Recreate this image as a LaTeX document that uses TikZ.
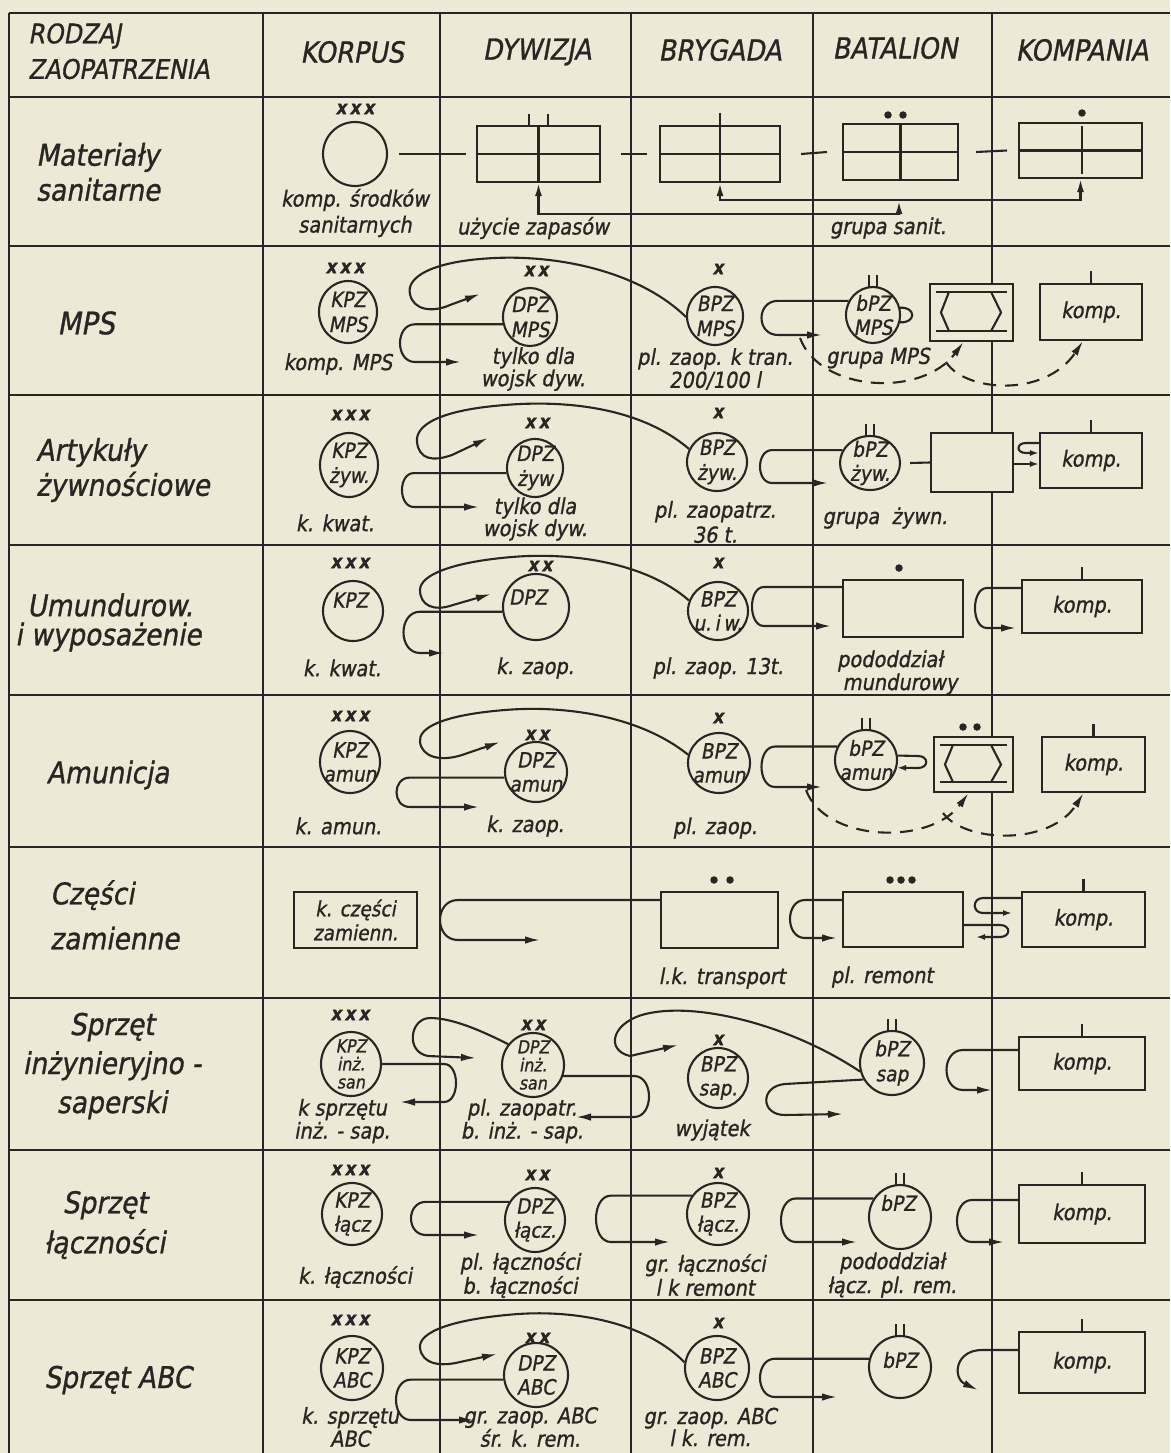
\documentclass[tikz,border=0pt]{standalone}
\usepackage{fontspec}
\newfontfamily\hand{DejaVu Sans}[FakeSlant=0.18,FakeStretch=0.88,FakeBold=1]
\usetikzlibrary{calc,arrows.meta,shapes.geometric}
\definecolor{paper}{RGB}{237,233,214}
\definecolor{ink}{RGB}{40,38,35}

% inner drawing of the column/transport box
\newcommand\hexmark[1]{%
  \draw[plain] ($(#1.north west)+(7,9)$) -- ($(#1.north east)+(-7,9)$);
  \draw[plain] ($(#1.south west)+(7,-11)$) -- ($(#1.south east)+(-7,-11)$);
  \draw[plain] ($(#1.north west)+(20,9)$) -- ($(#1.west)+(12,0)$) -- ($(#1.south west)+(20,-11)$);
  \draw[plain] ($(#1.north east)+(-23,9)$) -- ($(#1.east)+(-13,0)$) -- ($(#1.south east)+(-23,-11)$);}
% battalion sign above a depot
\newcommand\bnticks[1]{%
  \draw[plain] ($(#1.north)+(-4,2)$) -- ++(0,-13);
  \draw[plain] ($(#1.north)+(4,2)$) -- ++(0,-13);}
% company sign above a box
\newcommand\coytick[1]{\draw[plain] (#1.north) -- ++(0,-12);}

\begin{document}
\begin{tikzpicture}[x=1pt,y=-1pt,
  gridline/.style={ink,line width=2.6pt},
  plain/.style={ink,line width=2.1pt},
  conn/.style={ink,line width=2.1pt,-{Latex[length=15pt,width=7.5pt]}},
  connsmall/.style={ink,line width=2.1pt,-{Latex[length=9pt,width=6pt]}},
  conntwo/.style={ink,line width=2.1pt,{Latex[length=13pt,width=7pt]}-{Latex[length=13pt,width=7pt]}},
  dashconn/.style={conn,dash pattern=on 13pt off 9pt},
  pz/.style={ellipse,draw=ink,fill=paper,line width=2.1pt,minimum width=58pt,minimum height=62pt,inner sep=0pt},
  unitbox/.style={rectangle,draw=ink,fill=paper,line width=2.1pt,inner sep=0pt},
  pztext/.style={font=\hand\fontsize{21}{#1}\selectfont,align=center,inner sep=0pt,text=ink},
  pztext/.default=23,
  pzsmall/.style={font=\hand\fontsize{18}{18}\selectfont,align=center,inner sep=0pt,text=ink},
  ann/.style={font=\hand\fontsize{22}{#1}\selectfont,align=center,inner sep=0pt,text=ink},
  ann/.default=23,
  head/.style={font=\hand\fontsize{29}{30}\selectfont,inner sep=0pt,text=ink},
  rowlab/.style={font=\hand\fontsize{30}{#1}\selectfont,align=center,inner sep=0pt,text=ink},
  rowlab/.default=35,
  echelon/.style={font=\hand\bfseries\fontsize{19}{19}\selectfont,inner sep=0pt,text=ink},
  dotmark/.style={circle,fill=ink,inner sep=0pt,minimum size=7.5pt},
]
\useasboundingbox (0,0) rectangle (1170,1453);
\fill[paper] (0,0) rectangle (1170,1453);

% ---------- table grid ----------
\foreach \y in {13,97,246,395,545,695,847,998,1150,1300}
  \draw[gridline] (9,\y) -- (1170,\y);
\foreach \x in {9,263,440,631,813,992}
  \draw[gridline] (\x,13) -- (\x,1453);

% ---------- header ----------
\node[head,anchor=west,font=\hand\fontsize{27}{28}\selectfont] (hr1) at (28,36) {RODZAJ};
\node[head,anchor=west,font=\hand\fontsize{27}{28}\selectfont] (hr2) at (28,69) {ZAOPATRZENIA};
\node[head] (hk) at (352,52) {KORPUS};
\node[head] (hd) at (537,52) {DYWIZJA};
\node[head] (hb) at (720,50) {BRYGADA};
\node[head] (ht) at (895,48) {BATALION};
\node[head] (hm) at (1082,50) {KOMPANIA};

% ---------- Materialy sanitarne ----------
\node[rowlab,anchor=west,align=left] (l1) at (36,172) {Materiały\\sanitarne};
\node[pz,minimum width=64pt,minimum height=64pt] (c1) at (355,154) {};
\node[echelon] (c1e) at (355,109) {x\,x\,x};
\node[ann=26] (c1a) at (355,213) {komp. środków\\sanitarnych};
\node[unitbox,minimum width=123pt,minimum height=56pt] (d1) at (538.5,154) {};
\node[unitbox,minimum width=120pt,minimum height=56pt] (b1) at (720,154) {};
\node[unitbox,minimum width=115pt,minimum height=56pt] (t1) at (900.5,152) {};
\node[unitbox,minimum width=123pt,minimum height=55pt] (k1) at (1080.5,150.5) {};
\draw[plain] (d1.west) -- (d1.east);
\draw[plain] (d1.north) -- (d1.south);
\draw[plain] ($(d1.north)+(-9.5,0)$) -- ++(0,-11);
\draw[plain] ($(d1.north)+(9.5,0)$) -- ++(0,-11);
\draw[plain] (b1.west) -- (b1.east);
\draw[plain] ($(b1.north)+(0,-12)$) -- (b1.south);
\draw[plain] (t1.west) -- (t1.east);
\draw[plain] (t1.north) -- (t1.south);
\node[dotmark] (t1d1) at (888,115) {};
\node[dotmark] (t1d2) at (903,115) {};
\draw[plain] (k1.west) -- (k1.east);
\draw[plain] ($(k1.north)+(1.5,4)$) -- ($(k1.south)+(1.5,-5)$);
\node[dotmark] (k1d) at (1082,113) {};
\draw[plain] ([xshift=11pt]c1.east) -- ([xshift=-10pt]d1.west);
\draw[plain] ([xshift=20pt]d1.east) -- ([xshift=-12pt]b1.west);
\draw[plain] ([xshift=20pt]b1.east) -- ([xshift=-15pt]t1.west);
\draw[plain] ([xshift=17pt]t1.east) -- ([xshift=-11pt]k1.west);
\draw[conntwo] (b1.south) -- ++(0,17) -| (k1.south);
\coordinate (j1) at (899,201);
\draw[conntwo] (d1.south) -- ++(0,31) -| (j1);
\node[ann] (c1b) at (533,228) {użycie zapasów};
\node[ann] (c1c) at (888,228) {grupa sanit.};

% ---------- MPS ----------
\node[rowlab,font=\hand\fontsize{31}{32}\selectfont] (l2) at (86,323) {MPS};
\node[pz] (k2) at (348,312) {};
\node[pztext=25] (k2t) at (k2) {KPZ\\MPS};
\node[echelon] (k2e) at (345,268) {x\,x\,x};
\node[ann] (k2a) at (338,364) {komp. MPS};
\node[pz,minimum width=54pt,minimum height=58pt] (d2) at (530,317) {};
\node[pztext=25] (d2t) at (d2) {DPZ\\MPS};
\node[echelon] (d2e) at (536,271) {x\,x};
\node[ann=21] (d2a) at (533,369) {tylko dla\\wojsk dyw.};
\node[pz,minimum width=56pt,minimum height=58pt] (b2) at (715,316) {};
\node[pztext=25] (b2t) at (b2) {BPZ\\MPS};
\node[echelon] (b2e) at (718,269) {x};
\node[ann=23] (b2a) at (715,369) {pl. zaop. k tran.\\200/100 l};
\node[pz,minimum width=54pt,minimum height=56pt] (t2) at (873,315) {};
\node[pztext=24] (t2t) at (t2) {bPZ\\MPS};
\bnticks{t2}
\draw[plain] (t2.15) .. controls +(16,-1) and +(16,1) .. (t2.-15);
\node[ann] (t2a) at (878,358) {grupa MPS};
\node[unitbox,minimum width=83pt,minimum height=57pt] (h2) at (971.5,312.5) {};
\hexmark{h2}
\node[unitbox,minimum width=102pt,minimum height=56pt] (m2) at (1091,312) {};
\node[ann] (m2t) at (m2) {komp.};
\coytick{m2}
\draw[conn] (b2.182) .. controls (640,272) and (560,255) .. (495,258)
  .. controls (430,261) and (406,278) .. (410,294)
  .. controls (413,310) and (432,313) .. (450,305) -- (480,294);
\draw[conn] (d2.195) -- (d2.195 -| 415,0) .. controls +(-20,0) and +(-20,0) .. (415,362) -- (461,362);
\draw[conn] (t2.150) -- (t2.150 -| 778,0) .. controls +(-22,0) and +(-22,0) .. (778,335) -- (822,335);
\draw[dashconn] (800,338) .. controls (820,392) and (922,398) .. ($(h2.south)+(-8,0)$);
\draw[dashconn] (946,362) .. controls (965,392) and (1045,398) .. ($(m2.south)+(-8,0)$);

% ---------- Artykuly zywnosciowe ----------
\node[rowlab,anchor=west,align=left] (l3) at (36,470) {Artykuły\\żywnościowe};
\node[pz,minimum height=64pt] (k3) at (349,465) {};
\node[pztext=25] (k3t) at (k3) {KPZ\\żyw.};
\node[echelon] (k3e) at (350,415) {x\,x\,x};
\node[ann] (k3a) at (335,523) {k. kwat.};
\node[pz,minimum width=56pt,minimum height=58pt] (d3) at (535,468) {};
\node[pztext=25] (d3t) at (d3) {DPZ\\żyw};
\node[echelon] (d3e) at (537,423) {x\,x};
\node[ann=22] (d3a) at (535,519) {tylko dla\\wojsk dyw.};
\node[pz,minimum width=60pt,minimum height=58pt] (b3) at (717,462) {};
\node[pztext=25] (b3t) at (b3) {BPZ\\żyw.};
\node[echelon] (b3e) at (718,413) {x};
\node[ann=25] (b3a) at (715,522) {pl. zaopatrz.\\36 t.};
\node[pz,minimum width=60pt,minimum height=54pt] (t3) at (870,463) {};
\node[pztext=24] (t3t) at (t3) {bPZ\\żyw.};
\bnticks{t3}
\node[ann] (t3a) at (885,518) {grupa~~żywn.};
\node[unitbox,minimum width=82pt,minimum height=59pt] (r3) at (972,462.5) {};
\draw[plain] ([xshift=9pt]t3.east) -- (r3.west);
\node[unitbox,minimum width=102pt,minimum height=55pt] (m3) at (1091,460.5) {};
\node[ann] (m3t) at (m3) {komp.};
\coytick{m3}
\draw[connsmall] (m3.west |- 0,443) -- (1026,443) .. controls (1016,443) and (1016,453) .. (1026,453) -- (m3.west |- 0,453);
\draw[connsmall] (r3.east |- 0,464) -- (m3.west |- 0,464);
\draw[conn] (b3.155) .. controls (640,407) and (565,400) .. (505,405)
  .. controls (440,410) and (415,425) .. (417,442)
  .. controls (419,459) and (432,462) .. (452,455) -- (488,438);
\draw[conn] (d3.190) -- (d3.190 -| 414,0) .. controls +(-16,0) and +(-16,0) .. (414,507) -- (479,507);
\draw[conn] (t3.155) -- (t3.155 -| 772,0) .. controls +(-16,0) and +(-16,0) .. (772,483) -- (828,483);

% ---------- Umundurowanie i wyposazenie ----------
\node[rowlab,anchor=west] (l4a) at (27,605) {Umundurow.};
\node[rowlab,anchor=west] (l4b) at (15,637) {i wyposażenie};
\node[pz,minimum width=60pt,minimum height=60pt] (k4) at (353,611) {};
\node[pztext] (k4t) at (350,600) {KPZ};
\node[echelon] (k4e) at (350,563) {x\,x\,x};
\node[ann] (k4a) at (342,668) {k. kwat.};
\node[pz,minimum width=66pt,minimum height=66pt] (d4) at (536,607) {};
\node[pztext] (d4t) at (528,597) {DPZ};
\node[echelon] (d4e) at (540,566) {x\,x};
\node[ann] (d4a) at (535,668) {k. zaop.};
\node[pz,minimum width=60pt,minimum height=58pt] (b4) at (718,611) {};
\node[pztext=24] (b4t) at (b4) {BPZ\\u.\,i\,w.};
\node[echelon] (b4e) at (718,563) {x};
\node[ann] (b4a) at (718,668) {pl. zaop. 13t.};
\node[unitbox,minimum width=120pt,minimum height=57pt] (p4) at (903,608.5) {};
\node[dotmark] (p4d) at (899,568) {};
\node[ann] (p4a) at (890,661) {pododdział};
\node[ann] (p4b) at (900,684) {mundurowy};
\node[unitbox,minimum width=120pt,minimum height=53pt] (m4) at (1082,606.5) {};
\node[ann] (m4t) at (m4) {komp.};
\coytick{m4}
\draw[conn] (b4.160) .. controls (645,562) and (570,552) .. (512,557)
  .. controls (452,562) and (420,575) .. (420,590)
  .. controls (420,605) and (433,612) .. (453,605) -- (491,594);
\draw[conn] (d4.188) -- (d4.188 -| 420,0) .. controls +(-22,0) and +(-22,0) .. (420,653) -- (444,653);
\draw[conn] (p4.north west |- 0,587) -- (764,587) .. controls +(-16,0) and +(-16,0) .. (764,626) -- (831,626);
\draw[conn] (m4.north west |- 0,588) -- (987,588) .. controls +(-16,0) and +(-16,0) .. (987,628) -- (1016,628);

% ---------- Amunicja ----------
\node[rowlab] (l5) at (108,775) {Amunicja};
\node[pz,minimum width=60pt,minimum height=62pt] (k5) at (350,762) {};
\node[pztext=24] (k5t) at (k5) {KPZ\\amun};
\node[echelon] (k5e) at (350,716) {x\,x\,x};
\node[ann] (k5a) at (338,826) {k. amun.};
\node[pz,minimum width=62pt,minimum height=60pt] (d5) at (536,772) {};
\node[pztext=24] (d5t) at (d5) {DPZ\\amun};
\node[echelon] (d5e) at (537,735) {x\,x};
\node[ann] (d5a) at (525,826) {k. zaop.};
\node[pz,minimum width=62pt,minimum height=60pt] (b5) at (719,763) {};
\node[pztext=24] (b5t) at (b5) {BPZ\\amun};
\node[echelon] (b5e) at (718,718) {x};
\node[ann] (b5a) at (715,828) {pl. zaop.};
\node[pz,minimum width=62pt,minimum height=60pt] (t5) at (866,760) {};
\node[pztext=24] (t5t) at (t5) {bPZ\\amun};
\bnticks{t5}
\draw[connsmall] (t5.8) -- (918,756) .. controls (929,756) and (929,768) .. (918,768) -- (t5.-14);
\node[unitbox,minimum width=79pt,minimum height=55pt] (h5) at (973.5,764.5) {};
\hexmark{h5}
\node[dotmark] (h5d1) at (963,727) {};
\node[dotmark] (h5d2) at (977,727) {};
\node[unitbox,minimum width=103pt,minimum height=55pt] (m5) at (1093.5,764.5) {};
\node[ann] (m5t) at (m5) {komp.};
\coytick{m5}
\draw[conn] (b5.165) .. controls (640,716) and (565,705) .. (505,710)
  .. controls (442,715) and (418,728) .. (420,742)
  .. controls (422,757) and (440,762) .. (462,755) -- (500,742);
\draw[conn] (d5.190) -- (d5.190 -| 410,0) .. controls +(-18,0) and +(-18,0) .. (410,807) -- (479,807);
\draw[conn] (t5.155) -- (t5.155 -| 775,0) .. controls +(-18,0) and +(-18,0) .. (775,787) -- (822,787);
\draw[dashconn] (806,790) .. controls (825,842) and (930,846) .. ($(h5.south)+(-5,0)$);
\draw[dashconn] (943,813) .. controls (965,843) and (1050,846) .. ($(m5.south)+(-10,0)$);

% ---------- Czesci zamienne ----------
\node[rowlab=45,anchor=west,align=left] (l6) at (50,915) {Części\\zamienne};
\node[unitbox,minimum width=123pt,minimum height=56pt,font=\hand\fontsize{21}{24}\selectfont,align=center,text=ink] (z6) at (355.5,920) {k. części\\zamienn.};
\node[unitbox,minimum width=117pt,minimum height=56pt] (l6b) at (719.5,920) {};
\node[dotmark] (l6d1) at (714,880) {};
\node[dotmark] (l6d2) at (730,880) {};
\node[ann] (l6a) at (722,978) {l.k. transport};
\node[unitbox,minimum width=120pt,minimum height=55pt] (r6) at (903,919.5) {};
\node[dotmark] (r6d1) at (890,880) {};
\node[dotmark] (r6d2) at (901,880) {};
\node[dotmark] (r6d3) at (912,880) {};
\node[ann] (r6a) at (882,977) {pl. remont};
\node[unitbox,minimum width=123pt,minimum height=55pt] (m6) at (1083.5,919.5) {};
\node[ann] (m6t) at (m6) {komp.};
\coytick{m6}
\draw[conn] (l6b.north west |- 0,900) -- (458,900) .. controls +(-24,0) and +(-24,0) .. (458,940) -- (540,940);
\draw[conn] (r6.north west |- 0,900) -- (805,900) .. controls +(-20,0) and +(-20,0) .. (805,938) -- (837,938);
\draw[connsmall] (m6.north west |- 0,898) -- (983,898) .. controls +(-11,0) and +(-11,0) .. (983,913) -- (1012,913);
\draw[connsmall] (r6.north east |- 0,925) -- (1000,925) .. controls +(11,0) and +(11,0) .. (1000,937) -- (976,937);

% ---------- Sprzet inzynieryjno-saperski ----------
\node[rowlab=39] (l7) at (112,1066) {Sprzęt\\inżynieryjno -\\saperski};
\node[pz,minimum width=60pt,minimum height=64pt] (k7) at (351,1064) {};
\node[pzsmall] (k7t) at (k7) {KPZ\\inż.\\san};
\node[echelon] (k7e) at (350,1015) {x\,x\,x};
\node[ann=23] (k7a) at (342,1121) {k sprzętu\\inż. - sap.};
\node[pz,minimum width=62pt,minimum height=64pt] (d7) at (533,1065) {};
\node[pzsmall] (d7t) at (d7) {DPZ\\inż.\\san};
\node[echelon] (d7e) at (533,1025) {x\,x};
\node[ann=23] (d7a) at (522,1121) {pl. zaopatr.\\b. inż. - sap.};
\node[pz,minimum width=60pt,minimum height=60pt] (b7) at (718,1078) {};
\node[pztext=24] (b7t) at (b7) {BPZ\\sap.};
\node[echelon] (b7e) at (718,1040) {x};
\node[ann] (b7a) at (712,1130) {wyjątek};
\node[pz,minimum width=64pt,minimum height=64pt] (t7) at (892,1063) {};
\node[pztext=25] (t7t) at (t7) {bPZ\\sap};
\bnticks{t7}
\node[unitbox,minimum width=126pt,minimum height=53pt] (m7) at (1082,1063.5) {};
\node[ann] (m7t) at (m7) {komp.};
\coytick{m7}
\draw[conn] (d7.140) .. controls (480,1030) and (452,1018) .. (430,1018)
  .. controls (410,1018) and (405,1052) .. (428,1056) -- (476,1058);
\draw[conn] (k7.east) -- (444,1064) .. controls +(16,0) and +(16,0) .. (444,1102) -- (400,1102);
\draw[conn] (d7.-20) -- (d7.-20 -| 634,0) .. controls +(20,0) and +(20,0) .. (634,1117) -- (576,1117);
\draw[conn] (t7.195) .. controls (790,1025) and (700,1003) .. (650,1013)
  .. controls (612,1020) and (604,1050) .. (630,1056) -- (678,1045);
\draw[conn] (t7.210) -- (785,1084) .. controls (760,1086) and (760,1115) .. (785,1115) -- (843,1114);
\draw[conn] (m7.north west |- 0,1050) -- (963,1050) .. controls +(-22,0) and +(-22,0) .. (963,1090) -- (992,1090);

% ---------- Sprzet lacznosci ----------
\node[rowlab=40] (l8) at (105,1225) {Sprzęt\\łączności};
\node[pz,minimum width=60pt,minimum height=62pt] (k8) at (352,1214) {};
\node[pztext=24] (k8t) at (k8) {KPZ\\łącz};
\node[echelon] (k8e) at (350,1170) {x\,x\,x};
\node[ann] (k8a) at (355,1277) {k. łączności};
\node[pz,minimum width=60pt,minimum height=64pt] (d8) at (535,1220) {};
\node[pztext=24] (d8t) at (d8) {DPZ\\łącz.};
\node[echelon] (d8e) at (537,1175) {x\,x};
\node[ann=24] (d8a) at (520,1275) {pl. łączności\\b. łączności};
\node[pz,minimum width=62pt,minimum height=62pt] (b8) at (718,1214) {};
\node[pztext=24] (b8t) at (b8) {BPZ\\łącz.};
\node[echelon] (b8e) at (718,1173) {x};
\node[ann=24] (b8a) at (705,1275) {gr. łączności\\l k remont};
\node[pz,minimum width=62pt,minimum height=64pt] (t8) at (900,1217) {};
\node[pztext] (t8t) at (898,1203) {bPZ};
\bnticks{t8}
\node[ann=24] (t8a) at (892,1275) {pododdział\\łącz. pl. rem.};
\node[unitbox,minimum width=126pt,minimum height=58pt] (m8) at (1082,1214) {};
\node[ann] (m8t) at (m8) {komp.};
\coytick{m8}
\draw[conn] (d8.145) -- (d8.145 -| 426,0) .. controls +(-20,0) and +(-20,0) .. (426,1235) -- (479,1235);
\draw[conn] (b8.145) -- (b8.145 -| 611,0) .. controls +(-20,0) and +(-20,0) .. (611,1242) -- (670,1242);
\draw[conn] (t8.145) -- (t8.145 -| 796,0) .. controls +(-20,0) and +(-20,0) .. (796,1242) -- (857,1242);
\draw[conn] (m8.north west |- 0,1200) -- (972,1200) .. controls +(-20,0) and +(-20,0) .. (972,1242) -- (1004,1242);

% ---------- Sprzet ABC ----------
\node[rowlab] (l9) at (118,1380) {Sprzęt ABC};
\node[pz,minimum width=62pt,minimum height=64pt] (k9) at (352,1368) {};
\node[pztext=24] (k9t) at (k9) {KPZ\\ABC};
\node[echelon] (k9e) at (350,1320) {x\,x\,x};
\node[ann=23] (k9a) at (350,1427) {k. sprzętu\\ABC};
\node[pz,minimum width=64pt,minimum height=64pt] (d9) at (536,1375) {};
\node[pztext=24] (d9t) at (d9) {DPZ\\ABC};
\node[echelon] (d9e) at (537,1338) {x\,x};
\node[ann=22] (d9a) at (530,1427) {gr. zaop. ABC\\śr. k. rem.};
\node[pz,minimum width=64pt,minimum height=64pt] (b9) at (717,1368) {};
\node[pztext=24] (b9t) at (b9) {BPZ\\ABC};
\node[echelon] (b9e) at (718,1323) {x};
\node[ann=22] (b9a) at (710,1427) {gr. zaop. ABC\\l k. rem.};
\node[pz,minimum width=62pt,minimum height=62pt] (t9) at (900,1367) {};
\node[pztext] (t9t) at (900,1360) {bPZ};
\bnticks{t9}
\node[unitbox,minimum width=126pt,minimum height=61pt] (m9) at (1082,1362.5) {};
\node[ann] (m9t) at (m9) {komp.};
\coytick{m9}
\draw[conn] (b9.170) .. controls (645,1322) and (575,1310) .. (518,1314)
  .. controls (452,1319) and (418,1332) .. (420,1348)
  .. controls (422,1364) and (440,1367) .. (460,1362) -- (497,1354);
\draw[conn] (d9.188) -- (d9.188 -| 411,0) .. controls +(-20,0) and +(-20,0) .. (411,1420) -- (474,1420);
\draw[conn] (t9.165) -- (t9.165 -| 775,0) .. controls +(-20,0) and +(-20,0) .. (775,1397) -- (837,1397);
\draw[conn] (m9.north west |- 0,1350) -- (982,1350) .. controls (955,1350) and (952,1378) .. (978,1390);
\end{tikzpicture}
\end{document}
